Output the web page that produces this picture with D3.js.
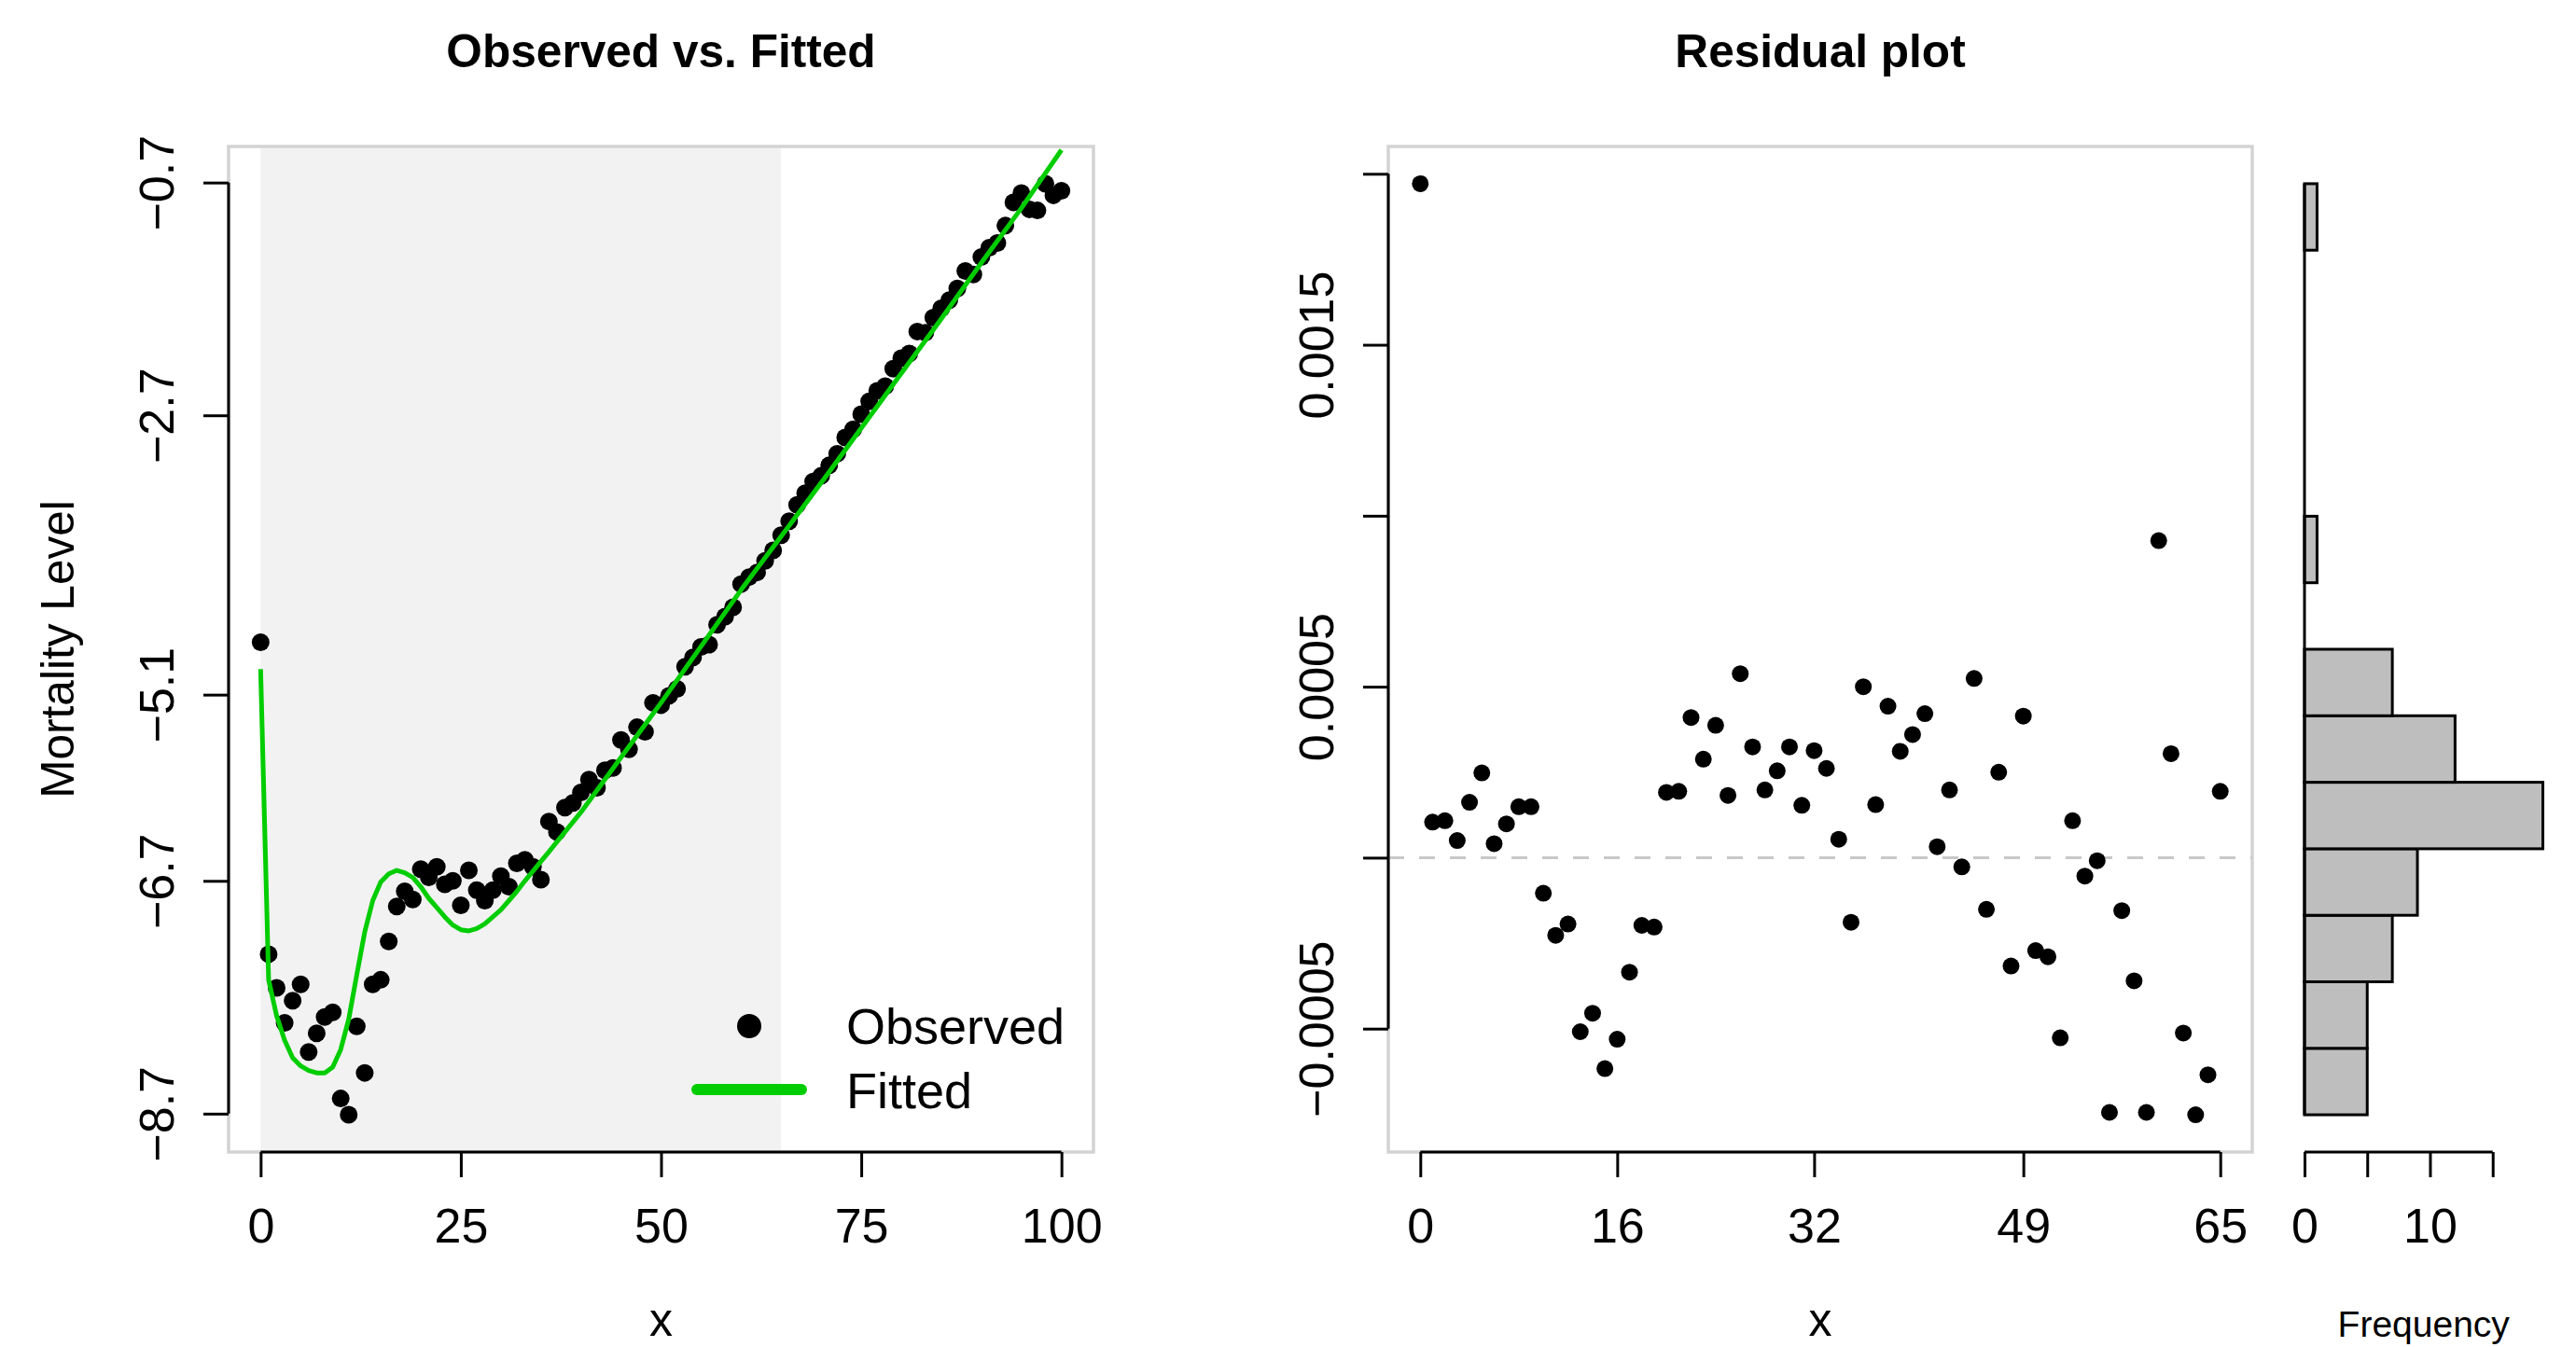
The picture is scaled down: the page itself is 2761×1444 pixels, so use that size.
<!DOCTYPE html>
<html>
<head>
<meta charset="utf-8">
<script src="https://cdn.jsdelivr.net/npm/d3@7"></script>
<style>
  body { margin: 0; background: #fff; }
</style>
</head>
<body>
<script>
const width = 2761;
const height = 1444;

// observed mortality level, one value per age 0..100
const ages = d3.range(0, 101);
const observed = [
  -4.65, -7.33, -7.62, -7.92, -7.73, -7.59, -8.17, -8.01, -7.87, -7.83,
  -8.57, -8.71, -7.95, -8.35, -7.59, -7.55, -7.22, -6.92, -6.79, -6.86,
  -6.60, -6.67, -6.58, -6.73, -6.70, -6.91, -6.61, -6.78, -6.87, -6.78,
  -6.66, -6.75, -6.55, -6.52, -6.58, -6.69, -6.19, -6.28, -6.07, -6.03,
  -5.94, -5.83, -5.90, -5.75, -5.73, -5.49, -5.57, -5.38, -5.42, -5.17,
  -5.19, -5.11, -5.05, -4.86, -4.78, -4.69, -4.67, -4.50, -4.43, -4.35,
  -4.15, -4.09, -4.05, -3.95, -3.86, -3.73, -3.61, -3.47, -3.37, -3.27,
  -3.22, -3.13, -3.03, -2.89, -2.82, -2.69, -2.58, -2.49, -2.45, -2.30,
  -2.21, -2.17, -1.98, -1.99, -1.86, -1.78, -1.71, -1.61, -1.46, -1.49,
  -1.34, -1.26, -1.22, -1.07, -0.87, -0.79, -0.93, -0.94, -0.71, -0.81,
  -0.77
];

// fitted curve
const fittedAges = [
  0, 1, 2, 3, 4, 5, 6, 7, 8, 9, 10, 11, 12, 13, 14, 15, 16, 17, 18, 19,
  20, 21, 22, 23, 24, 25, 26, 27, 28, 29, 30, 31, 32, 33,
  36, 40, 45, 50, 55, 60, 65, 70, 75, 80, 85, 90, 95, 100
];
const fitted = [
  -4.88, -7.55, -7.86, -8.07, -8.22, -8.29, -8.33, -8.35, -8.35, -8.30,
  -8.15, -7.89, -7.51, -7.14, -6.87, -6.71, -6.64, -6.61, -6.63, -6.67,
  -6.75, -6.85, -6.93, -7.01, -7.08, -7.12, -7.13, -7.11, -7.07, -7.01,
  -6.95, -6.87, -6.79, -6.70,
  -6.45, -6.11, -5.64, -5.17, -4.685, -4.20, -3.74, -3.28, -2.81, -2.34,
  -1.87, -1.39, -0.92, -0.42
];
const fitRange = [0, 65];

// residuals for ages 0..65
const residuals = [
  0.001971, 0.000104, 0.000108, 0.000050, 0.000162, 0.000248, 0.000041, 0.000099, 0.000149, 0.000149,
  -0.000104, -0.000227, -0.000194, -0.000509, -0.000455, -0.000617, -0.000531, -0.000335, -0.000198, -0.000203,
  0.000191, 0.000194, 0.000410, 0.000288, 0.000387, 0.000182, 0.000538, 0.000324, 0.000198, 0.000254,
  0.000324, 0.000153, 0.000313, 0.000261, 0.000054, -0.000189, 0.000500, 0.000155, 0.000443, 0.000311,
  0.000360, 0.000421, 0.000032, 0.000198, -0.000027, 0.000524, -0.000151, 0.000250, -0.000317, 0.000414,
  -0.000272, -0.000290, -0.000527, 0.000108, -0.000054, -0.000009, -0.000745, -0.000155, -0.000360, -0.000745,
  0.000927, 0.000304, -0.000513, -0.000752, -0.000635, 0.000194
];
const histBreaks = [-0.0008, -0.0006, -0.0004, -0.0002, 0, 0.0002, 0.0004, 0.0006,
  0.0008, 0.001, 0.0012, 0.0014, 0.0016, 0.0018, 0.002];

const xTicksLeft = [0, 25, 50, 75, 100];
const xLabelsLeft = ['0', '25', '50', '75', '100'];
const yTicksLeft = [-0.7, -2.7, -5.1, -6.7, -8.7];
const yLabelsLeft = ['\u22120.7', '\u22122.7', '\u22125.1', '\u22126.7', '\u22128.7'];
const xTicksRight = [0, 16, 32, 49, 65];
const xLabelsRight = ['0', '16', '32', '49', '65'];
const yTicksRight = [0.002, 0.0015, 0.001, 0.0005, 0, -0.0005];
const yLabelsRight = ['', '0.0015', '', '0.0005', '', '\u22120.0005'];
const freqTicks = [0, 5, 10, 15];
const freqLabels = ['0', '', '10', ''];

const green = '#00CD00';
const boxGrey = '#D3D3D3';
const plotTop = 157, plotBottom = 1235;
const font = '"Liberation Sans", Arial, Helvetica, sans-serif';

const svg = d3.select('body')
  .append('svg')
  .attr('width', width)
  .attr('height', height)
  .style('background-color', '#fff')
  .style('font-family', font);

function padded(ext) {
  const p = 0.04 * (ext[1] - ext[0]);
  return [ext[0] - p, ext[1] + p];
}

function leftAxis(x0, scale, ticks, labels) {
  const g = svg.append('g')
    .attr('transform', `translate(${x0},0)`)
    .call(d3.axisLeft(scale).tickValues(ticks).tickSize(27).tickFormat((d, i) => labels[i]));
  g.select('.domain').remove();
  g.append('line')
    .attr('y1', scale(d3.max(ticks))).attr('y2', scale(d3.min(ticks)))
    .attr('stroke', '#000').attr('stroke-width', 3);
  g.selectAll('.tick line').attr('stroke', '#000').attr('stroke-width', 3);
  g.selectAll('.tick text')
    .attr('transform', 'rotate(-90)')
    .attr('x', 0).attr('y', -59).attr('dy', null)
    .attr('text-anchor', 'middle')
    .attr('fill', '#000')
    .style('font-size', '52px').style('font-family', font);
}

function bottomAxis(y0, scale, ticks, labels) {
  const g = svg.append('g')
    .attr('transform', `translate(0,${y0})`)
    .call(d3.axisBottom(scale).tickValues(ticks).tickSize(27).tickFormat((d, i) => labels[i]));
  g.select('.domain').remove();
  g.append('line')
    .attr('x1', scale(d3.min(ticks))).attr('x2', scale(d3.max(ticks)))
    .attr('stroke', '#000').attr('stroke-width', 3);
  g.selectAll('.tick line').attr('stroke', '#000').attr('stroke-width', 3);
  g.selectAll('.tick text')
    .attr('y', 97).attr('dy', null)
    .attr('fill', '#000')
    .style('font-size', '52px').style('font-family', font);
}

function label(x, y, txt, size, opts = {}) {
  const t = svg.append('text')
    .attr('x', x).attr('y', y)
    .attr('text-anchor', 'middle')
    .style('font-size', size + 'px')
    .style('font-weight', opts.bold ? 'bold' : 'normal')
    .text(txt);
  if (opts.rotate) t.attr('transform', `rotate(-90,${x},${y})`);
  return t;
}

// ---- left panel: observed vs fitted ----
const xL = d3.scaleLinear().domain(padded(d3.extent(ages))).range([245, 1172]);
const yL = d3.scaleLinear().domain(padded(d3.extent(observed))).range([plotBottom, plotTop]);

svg.append('rect')
  .attr('x', xL(fitRange[0])).attr('y', plotTop)
  .attr('width', xL(fitRange[1]) - xL(fitRange[0]))
  .attr('height', plotBottom - plotTop)
  .attr('fill', '#F2F2F2');

svg.append('defs').append('clipPath').attr('id', 'clipL')
  .append('rect')
  .attr('x', xL.range()[0]).attr('y', plotTop)
  .attr('width', xL.range()[1] - xL.range()[0]).attr('height', plotBottom - plotTop);

svg.append('rect')
  .attr('x', xL.range()[0]).attr('y', plotTop)
  .attr('width', xL.range()[1] - xL.range()[0]).attr('height', plotBottom - plotTop)
  .attr('fill', 'none').attr('stroke', boxGrey).attr('stroke-width', 3.5);

svg.append('g')
  .selectAll('circle')
  .data(observed)
  .enter()
  .append('circle')
  .attr('cx', (d, i) => xL(ages[i]))
  .attr('cy', d => yL(d))
  .attr('r', 9.5)
  .attr('fill', '#000');

svg.append('path')
  .datum(fittedAges.map((a, i) => [a, fitted[i]]))
  .attr('clip-path', 'url(#clipL)')
  .attr('d', d3.line().x(d => xL(d[0])).y(d => yL(d[1])))
  .attr('fill', 'none')
  .attr('stroke', green)
  .attr('stroke-width', 5)
  .attr('stroke-linejoin', 'round');

leftAxis(xL.range()[0], yL, yTicksLeft, yLabelsLeft);
bottomAxis(plotBottom, xL, xTicksLeft, xLabelsLeft);

// legend
const legX = 803, legTextX = 907;
svg.append('circle').attr('cx', legX).attr('cy', 1100).attr('r', 13).attr('fill', '#000');
svg.append('line')
  .attr('x1', legX - 56).attr('x2', legX + 56).attr('y1', 1168).attr('y2', 1168)
  .attr('stroke', green).attr('stroke-width', 12).attr('stroke-linecap', 'round');
svg.append('text').attr('x', legTextX).attr('y', 1119).style('font-size', '54px').text('Observed');
svg.append('text').attr('x', legTextX).attr('y', 1188).style('font-size', '54px').text('Fitted');

const midL = (xL.range()[0] + xL.range()[1]) / 2;
label(midL, 72, 'Observed vs. Fitted', 49.6, { bold: true });
label(midL, 1432, 'x', 50);
label(79, (plotTop + plotBottom) / 2, 'Mortality Level', 49.6, { rotate: true });

// ---- right panel: residual plot ----
const resAges = d3.range(0, residuals.length);
const xR = d3.scaleLinear().domain(padded(d3.extent(resAges))).range([1488, 2414]);
const yR = d3.scaleLinear().domain(padded(d3.extent(residuals))).range([plotBottom, plotTop]);

svg.append('rect')
  .attr('x', xR.range()[0]).attr('y', plotTop)
  .attr('width', xR.range()[1] - xR.range()[0]).attr('height', plotBottom - plotTop)
  .attr('fill', 'none').attr('stroke', boxGrey).attr('stroke-width', 3.5);

svg.append('line')
  .attr('x1', xR.range()[0]).attr('x2', xR.range()[1])
  .attr('y1', yR(0)).attr('y2', yR(0))
  .attr('stroke', '#C8C8C8').attr('stroke-width', 3)
  .attr('stroke-dasharray', '17,16');

svg.append('g')
  .selectAll('circle')
  .data(residuals)
  .enter()
  .append('circle')
  .attr('cx', (d, i) => xR(resAges[i]))
  .attr('cy', d => yR(d))
  .attr('r', 9)
  .attr('fill', '#000');

leftAxis(xR.range()[0], yR, yTicksRight, yLabelsRight);
bottomAxis(plotBottom, xR, xTicksRight, xLabelsRight);

const midR = (xR.range()[0] + xR.range()[1]) / 2;
label(midR, 72, 'Residual plot', 49.6, { bold: true });
label(midR, 1432, 'x', 50);

// ---- histogram of residuals ----
const bins = d3.bin()
  .domain([histBreaks[0], histBreaks[histBreaks.length - 1]])
  .thresholds(histBreaks.slice(1, -1))(residuals);

const xH = d3.scaleLinear().domain([0, d3.max(bins, b => b.length)]).range([2470, 2725.5]);
const bandH = d3.scaleBand()
  .domain(bins.map((b, i) => i))
  .range([yR(d3.min(residuals)), yR(d3.max(residuals))]);

svg.append('g')
  .selectAll('rect')
  .data(bins)
  .enter()
  .append('rect')
  .attr('x', xH(0))
  .attr('y', (d, i) => bandH(i))
  .attr('width', d => xH(d.length) - xH(0))
  .attr('height', bandH.bandwidth())
  .attr('fill', '#BEBEBE')
  .attr('stroke', '#000')
  .attr('stroke-width', 3);

svg.append('line')
  .attr('x1', xH(0)).attr('x2', xH(0))
  .attr('y1', yR(d3.max(residuals))).attr('y2', yR(d3.min(residuals)))
  .attr('stroke', '#000').attr('stroke-width', 3);

bottomAxis(plotBottom, xH, freqTicks, freqLabels);
label((xH.range()[0] + xH.range()[1]) / 2, 1433, 'Frequency', 39);
</script>
</body>
</html>
